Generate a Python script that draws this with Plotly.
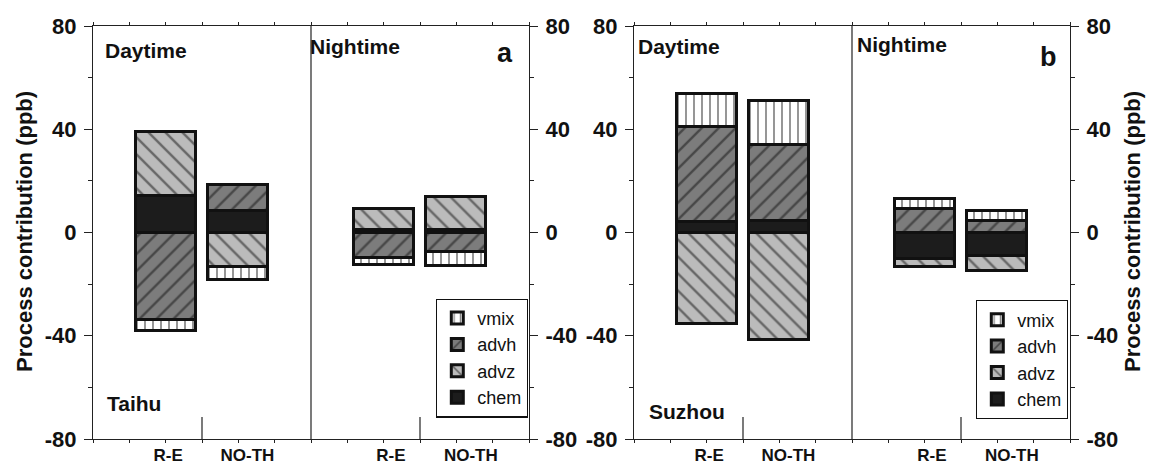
import plotly.graph_objects as go

# ---------------- data ----------------
processes = ["chem", "advh", "advz", "vmix"]          # stacking order (from zero outward)
legend_rank = {"vmix": 1, "advh": 2, "advz": 3, "chem": 4}
positions = [2, 4, 8, 10]                            # Day R-E, Day NO-TH, Night R-E, Night NO-TH
case_labels = ["R-E", "NO-TH", "R-E", "NO-TH"]
label_pos = [2.07, 4.25, 8.2, 10.4]

taihu_chem = [14, 8.5, 1, 0.8]
taihu_advh = [-34, 10, -10, -7.5]
taihu_advz = [25, -13.5, 8, 13]
taihu_vmix = [-4, -5, -2.5, -5.5]

suzhou_chem = [4, 4.5, -10.3, -9]
suzhou_advh = [37, 29.5, 9, 4.5]
suzhou_advz = [-35.5, -41.5, -3, -6]
suzhou_vmix = [12.5, 17, 4, 4]

y_ticks = [-80, -40, 0, 40, 80]
y_ticktext = ["-80", "-40", "0", "40", "80"]
y_minor = [-60, -20, 20, 60]

panels = [
    dict(name="a", site="Taihu", vals=dict(chem=taihu_chem, advh=taihu_advh, advz=taihu_advz, vmix=taihu_vmix)),
    dict(name="b", site="Suzhou", vals=dict(chem=suzhou_chem, advh=suzhou_advh, advz=suzhou_advz, vmix=suzhou_vmix)),
]

# ---------------- styles ----------------
FONT = "Liberation Sans, Arial, sans-serif"
styles = {
    "vmix": dict(color="white", pattern=dict(shape="|", fgcolor="#111111", bgcolor="white", size=8, solidity=0.22)),
    "advh": dict(color="#7c7c7c", pattern=dict(shape="/", fgcolor="#111111", bgcolor="#7c7c7c", size=12, solidity=0.2)),
    "advz": dict(color="#bbbbbb", pattern=dict(shape="\\", fgcolor="#111111", bgcolor="#bbbbbb", size=12, solidity=0.2)),
    "chem": dict(color="#1c1c1c", pattern=dict(shape="")),
}

W, H = 1150, 464
x_domains = [[93 / W, 529 / W], [634 / W, 1070 / W]]

fig = go.Figure()

for i, p in enumerate(panels):
    xa = "x" if i == 0 else "x2"
    ya = "y" if i == 0 else "y2"
    for proc in processes:
        st = styles[proc]
        fig.add_trace(go.Bar(
            x=positions, y=p["vals"][proc], name=proc,
            xaxis=xa, yaxis=ya, width=1.65,
            marker=dict(color=st["color"], pattern=st["pattern"],
                        line=dict(color="#111111", width=3)),
            legend="legend" if i == 0 else "legend2",
            legendrank=legend_rank[proc],
            showlegend=True,
        ))

axis_common_y = dict(
    range=[-80, 80], tickmode="array", tickvals=y_ticks, ticktext=y_ticktext,
    ticks="outside", ticklen=8, tickwidth=1.2, tickcolor="#222",
    showline=True, linecolor="#222", linewidth=1.3,
    showgrid=False, zeroline=False,
    tickfont=dict(family=FONT, size=22, color="#111", weight="bold"),
    minor=dict(tickvals=y_minor, ticks="outside", ticklen=4, tickwidth=1.2, tickcolor="#222"),
    ticklabelstandoff=3,
    fixedrange=True,
)
axis_common_x = dict(
    range=[0, 12], tickmode="array", tickvals=label_pos, ticktext=case_labels,
    ticks="", showline=True, linecolor="#222", linewidth=1.3, mirror="ticks",
    showgrid=False, zeroline=False,
    tickfont=dict(family=FONT, size=17, color="#111", weight="bold"),
    minor=dict(dtick=1, tick0=0, ticks="outside", ticklen=3, tickwidth=1.2, tickcolor="#222"),
    ticklabelstandoff=0,
    fixedrange=True,
)

fig.update_layout(
    width=W, height=H,
    margin=dict(l=0, r=0, t=26, b=25),
    paper_bgcolor="white", plot_bgcolor="white",
    barmode="relative", bargap=0,
    font=dict(family=FONT, color="#111"),
    xaxis=dict(domain=x_domains[0], anchor="y", **axis_common_x),
    xaxis2=dict(domain=x_domains[1], anchor="y2", **axis_common_x),
    yaxis=dict(domain=[0, 1], anchor="x", side="left", **axis_common_y),
    yaxis2=dict(domain=[0, 1], anchor="x2", side="left", **axis_common_y),
    yaxis3=dict(anchor="x", overlaying="y", side="right", **axis_common_y),
    yaxis4=dict(anchor="x2", overlaying="y2", side="right", **axis_common_y),
    legend=dict(x=528 / W, xanchor="right", y=0.052, yanchor="bottom",
                bgcolor="white", bordercolor="#111", borderwidth=1.3,
                font=dict(family=FONT, size=18, color="#111"),
                tracegroupgap=0, itemwidth=30),
    legend2=dict(x=1068 / W, xanchor="right", y=0.048, yanchor="bottom",
                 bgcolor="white", bordercolor="#111", borderwidth=1.3,
                 font=dict(family=FONT, size=18, color="#111"),
                 tracegroupgap=0, itemwidth=30),
)

# dummy traces to activate right-hand axes
for ya, xa in [("y3", "x"), ("y4", "x2")]:
    fig.add_trace(go.Scatter(x=[None], y=[None], xaxis=xa, yaxis=ya, showlegend=False, hoverinfo="skip"))

# dividers
for xa, ya in [("x", "y"), ("x2", "y2")]:
    fig.add_shape(type="line", xref=xa, yref=ya, x0=6, x1=6, y0=-80, y1=80, line=dict(color="#222", width=1.2))
    for xd in (3, 9):
        fig.add_shape(type="line", xref=xa, yref=ya, x0=xd, x1=xd, y0=-80, y1=-71.5, line=dict(color="#222", width=1.2))

# annotations
def ann(text, x, y, size, xanchor="left", bold=True, angle=0):
    fig.add_annotation(text=f"<b>{text}</b>" if bold else text, x=x / W, y=(439 - y) / 413,
                       xref="paper", yref="paper", xanchor=xanchor, yanchor="middle",
                       showarrow=False, textangle=angle,
                       font=dict(family=FONT, size=size, color="#111"))

ann("Daytime", 103, 50, 21)
ann("Nightime", 308, 47, 21)
ann("a", 505, 53, 27, xanchor="center")
ann("Taihu", 105, 403, 21)
ann("Daytime", 636, 47, 21)
ann("Nightime", 855, 44, 21)
ann("b", 1048, 57, 27, xanchor="center")
ann("Suzhou", 647, 411, 21)
ann("Process contribution (ppb)", 24, 232, 22, xanchor="center", angle=-90)
ann("Process contribution (ppb)", 1132, 232, 22, xanchor="center", angle=-90)

fig.write_html("out.html", config={"displayModeBar": False},
               post_script="document.body.style.margin='0px';document.body.style.overflow='hidden';")
